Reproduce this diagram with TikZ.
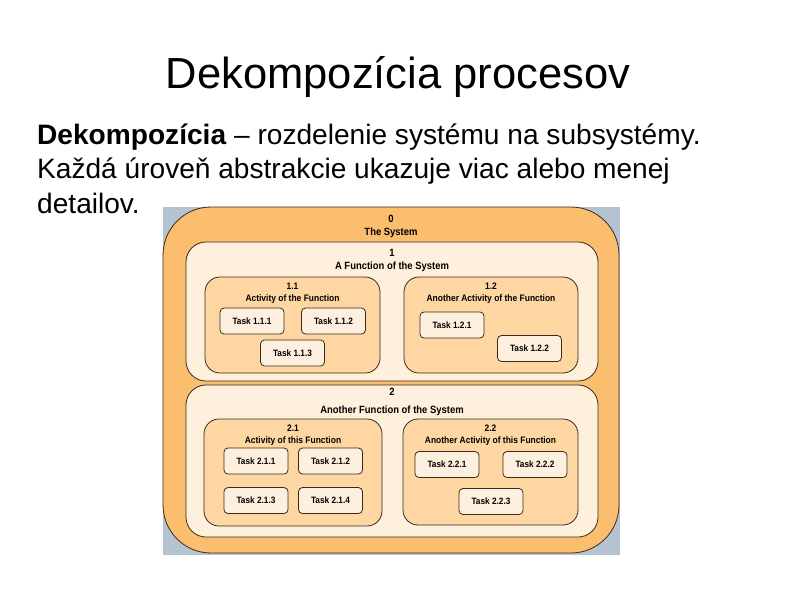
\documentclass[tikz,border=0pt]{standalone}
\usepackage{fontspec}
\setmainfont{Liberation Sans}
\newfontfamily\diafont[FakeStretch=0.9]{Liberation Sans}
\usepackage{xcolor}
\usetikzlibrary{positioning}
\definecolor{sysGray}{RGB}{180,195,207}
\definecolor{sysOrange}{RGB}{251,189,110}
\definecolor{funCream}{RGB}{254,240,220}
\definecolor{actOrange}{RGB}{253,214,162}
\definecolor{taskCream}{RGB}{254,240,223}
\definecolor{boxLine}{RGB}{58,42,26}

\begin{document}
\begin{tikzpicture}[x=1pt,y=-1pt,
    frame/.style={draw=boxLine,line width=0.8pt,inner sep=0pt},
    sysbox/.style={frame,fill=sysOrange,rounded corners=48pt,minimum width=456pt,minimum height=346pt},
    funbox/.style={frame,fill=funCream,rounded corners=20pt,minimum width=412pt},
    actbox/.style={frame,fill=actOrange,rounded corners=15pt},
    taskbox/.style={frame,fill=taskCream,rounded corners=4pt,minimum width=64pt,minimum height=26pt,font=\diafont\bfseries\fontsize{9.2}{10}\selectfont},
    hdr/.style={inner sep=0pt,align=center,font=\diafont\bfseries\fontsize{10.5}{13.5}\selectfont},
    acthdr/.style={inner sep=0pt,align=center,font=\diafont\bfseries\fontsize{9.4}{12}\selectfont},
    body/.style={inner sep=0pt,anchor=base west,font=\fontsize{28.1}{34}\selectfont}
  ]
    \useasboundingbox[fill=white] (0,0) rectangle (794,595);

    % title and text
    \node[inner sep=0pt,anchor=base,font=\fontsize{43.5}{50}\selectfont] (title) at (398,88) {Dekompozícia procesov};
    \node[body] (line1) at (37,144) {\textbf{Dekompozícia} – rozdelenie systému na subsystémy.};
    \node[body] (line2) at (37,178.5) {Každá úroveň abstrakcie ukazuje viac alebo menej};
    \node[body] (line3) at (37,213) {detailov.};

    % picture
    \fill[sysGray] (163,207) rectangle (620,555);
    \node[sysbox] (sys) at (391,380) {};
    \node[hdr,below=8pt of sys.north] (sysname) {0\\The System};

    \node[funbox,minimum height=139pt] (fun1) at (392,311.5) {};
    \node[hdr,below=7pt of fun1.north] (fun1name) {1\\A Function of the System};
    \node[funbox,minimum height=152pt] (fun2) at (392,461) {};
    \node[hdr,below=3.5pt of fun2.north] (fun2name) {2\\[4pt]Another Function of the System};

    \node[actbox,minimum width=175pt,minimum height=96pt] (act11) at (292.5,325) {};
    \node[acthdr,below=6pt of act11.north] (act11name) {1.1\\Activity of the Function};
    \node[actbox,minimum width=174pt,minimum height=96pt] (act12) at (491,325) {};
    \node[acthdr,below=6pt of act12.north] (act12name) {1.2\\Another Activity of the Function};
    \node[actbox,minimum width=178pt,minimum height=107pt] (act21) at (293,472.5) {};
    \node[acthdr,below=6pt of act21.north] (act21name) {2.1\\Activity of this Function};
    \node[actbox,minimum width=175pt,minimum height=106pt] (act22) at (490.5,472) {};
    \node[acthdr,below=6pt of act22.north] (act22name) {2.2\\Another Activity of this Function};

    % tasks
    \node[taskbox] (t111) at (252,321) {Task 1.1.1};
    \node[taskbox] (t112) at (333.5,321) {Task 1.1.2};
    \node[taskbox] (t113) at (292.5,353) {Task 1.1.3};
    \node[taskbox] (t121) at (452,325) {Task 1.2.1};
    \node[taskbox] (t122) at (529.5,348.5) {Task 1.2.2};
    \node[taskbox] (t211) at (256,461) {Task 2.1.1};
    \node[taskbox] (t212) at (330.5,461) {Task 2.1.2};
    \node[taskbox] (t213) at (256,500.5) {Task 2.1.3};
    \node[taskbox] (t214) at (330.5,500.5) {Task 2.1.4};
    \node[taskbox] (t221) at (447,464.5) {Task 2.2.1};
    \node[taskbox] (t222) at (535,464.5) {Task 2.2.2};
    \node[taskbox] (t223) at (491,501.5) {Task 2.2.3};
\end{tikzpicture}
\end{document}
